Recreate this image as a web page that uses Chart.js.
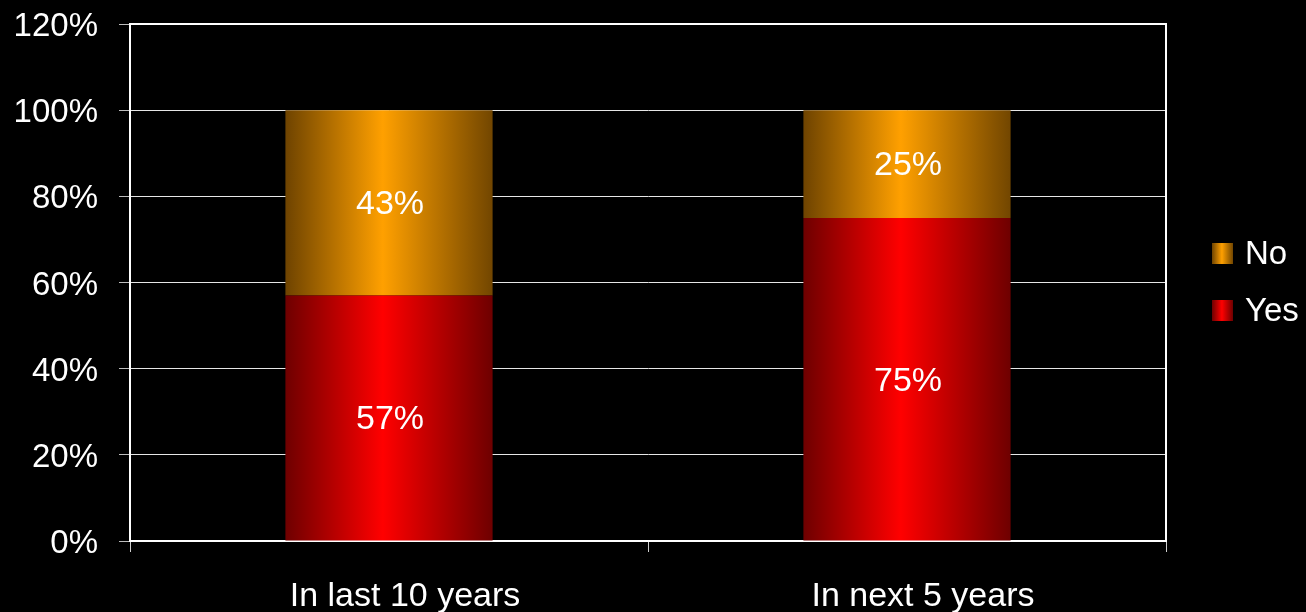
<!DOCTYPE html>
<html>
<head>
<meta charset="utf-8">
<script src="https://cdn.jsdelivr.net/npm/chart.js@4"></script>
<style>
  body { margin: 0; background: #000; }
  #wrap { width: 1306px; height: 612px; }
</style>
</head>
<body>
<div id="wrap"><canvas id="chart" width="1306" height="612"></canvas></div>
<script>
// data
const categories = ["In last 10 years", "In next 5 years"];
const yesValues = [57, 75];
const noValues = [43, 25];
const yTicks = [0, 20, 40, 60, 80, 100, 120];

const FONT = "'Liberation Sans', Arial, sans-serif";

// colour ramps: dark edge -> bright middle -> dark edge
const ramps = {
  Yes: ["#6e0000", "#ff0000", "#6e0000"],
  No: ["#6e4300", "#ffa000", "#724600"]
};

function makeGradient(ctx, x0, x1, stops) {
  const g = ctx.createLinearGradient(x0, 0, x1, 0);
  g.addColorStop(0, stops[0]);
  g.addColorStop(0.47, stops[1]);
  g.addColorStop(1, stops[2]);
  return g;
}

// scriptable fill: gradient spanning each bar's own width
function barFill(context) {
  const chart = context.chart;
  const stops = ramps[context.dataset.label];
  if (!chart.chartArea || context.dataIndex === undefined) return stops[1];
  const xScale = chart.scales.x;
  const center = xScale.getPixelForValue(context.dataIndex);
  const catWidth = (chart.chartArea.right - chart.chartArea.left) / categories.length;
  const half = catWidth * 0.4 / 2;
  return makeGradient(chart.ctx, center - half, center + half, stops);
}

// white value labels inside each segment
const valueLabels = {
  id: "valueLabels",
  afterDatasetsDraw(chart) {
    const ctx = chart.ctx;
    ctx.save();
    ctx.fillStyle = "#fff";
    ctx.font = "34px " + FONT;
    ctx.textAlign = "center";
    ctx.textBaseline = "middle";
    chart.data.datasets.forEach((ds, i) => {
      chart.getDatasetMeta(i).data.forEach((bar, j) => {
        ctx.fillText(ds.data[j] + "%", bar.x + 1, (bar.y + bar.base) / 2 + 2);
      });
    });
    ctx.restore();
  }
};

// top/right plot border + legend on the right
const frameAndLegend = {
  id: "frameAndLegend",
  afterDraw(chart) {
    const ctx = chart.ctx;
    const a = chart.chartArea;
    ctx.save();
    ctx.strokeStyle = "#fff";
    ctx.lineWidth = 2;
    ctx.beginPath();
    ctx.moveTo(a.left, a.top);
    ctx.lineTo(a.right, a.top);
    ctx.lineTo(a.right, a.bottom);
    ctx.stroke();

    const items = [["No", 243], ["Yes", 300]];
    ctx.font = "33px " + FONT;
    ctx.textBaseline = "middle";
    ctx.textAlign = "left";
    items.forEach(([label, y]) => {
      ctx.fillStyle = makeGradient(ctx, 1212, 1233, ramps[label]);
      ctx.fillRect(1212, y, 21, 21);
      ctx.fillStyle = "#fff";
      ctx.fillText(label, 1245, y + 12);
    });
    ctx.restore();
  }
};

new Chart(document.getElementById("chart"), {
  type: "bar",
  data: {
    labels: categories,
    datasets: [
      { label: "Yes", data: yesValues, backgroundColor: barFill, borderWidth: 0 },
      { label: "No", data: noValues, backgroundColor: barFill, borderWidth: 0 }
    ]
  },
  options: {
    responsive: false,
    animation: false,
    layout: { padding: { top: 24, right: 140, left: 0, bottom: 0 } },
    plugins: {
      legend: { display: false },
      tooltip: { enabled: false }
    },
    datasets: {
      bar: { categoryPercentage: 0.4, barPercentage: 1 }
    },
    scales: {
      x: {
        stacked: true,
        grid: { drawOnChartArea: false, drawTicks: true, tickLength: 11, tickColor: "#cfcfcf", offset: true },
        border: { display: true, color: "#fff", width: 2 },
        ticks: { color: "#fff", font: { family: FONT, size: 34 }, padding: 24, labelOffset: 16, maxRotation: 0 },
        afterFit(scale) { scale.height = 71; scale.paddingLeft = 0; scale.paddingRight = 0; }
      },
      y: {
        stacked: true,
        min: 0,
        max: 120,
        afterBuildTicks(scale) { scale.ticks = yTicks.map(v => ({ value: v })); },
        grid: { color: "#e6e6e6", lineWidth: 1, tickLength: 11, tickColor: "#bdbdbd" },
        border: { display: true, color: "#fff", width: 2 },
        ticks: {
          color: "#fff",
          font: { family: FONT, size: 33 },
          padding: 21,
          labelOffset: 3,
          callback: v => v + "%"
        },
        afterFit(scale) { scale.width = 130; scale.paddingTop = 0; scale.paddingBottom = 0; }
      }
    }
  },
  plugins: [valueLabels, frameAndLegend]
});
</script>
</body>
</html>
